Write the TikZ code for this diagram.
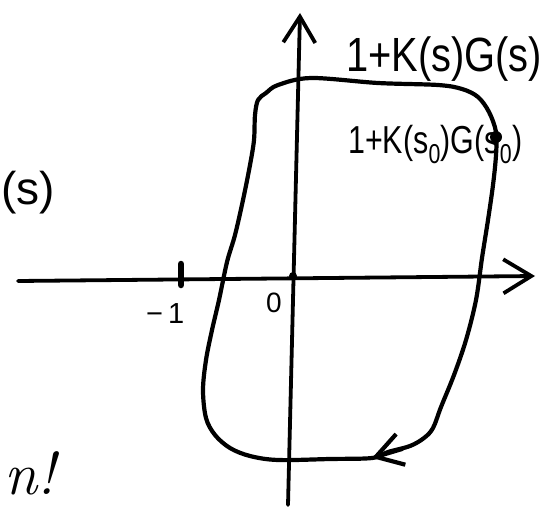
\documentclass[tikz,border=0pt]{standalone}
\usepackage{graphicx}
\usepackage{fontspec}
\newfontfamily\hand{Liberation Sans}
\usetikzlibrary{arrows.meta}
\begin{document}
\begin{tikzpicture}[x=1pt,y=-1pt,
  stroke/.style={line width=4.2pt,line cap=round,line join=round},
  axisline/.style={line width=3.8pt,line cap=round,line join=round},
  lbl/.style={inner sep=0pt},
  dotnode/.style={circle,fill,inner sep=0pt,minimum size=#1}]
\clip (0,0) rectangle (556,519);
% axes
\coordinate (xl) at (18,281);
\coordinate (xr) at (535,276);
\coordinate (yb) at (288,505);
\coordinate (yt) at (300,13);
\draw[axisline,-{Straight Barb[length=28pt,width=34pt]}] (xl) -- (xr);
\draw[axisline,-{Straight Barb[length=26pt,width=32pt]}] (yb) -- (yt);
% tick at -1
\coordinate (tkt) at (181,264);
\coordinate (tkb) at (181,285);
\draw[line width=6.5pt,line cap=round] (tkt) -- (tkb);
\node[dotnode=8pt] (orig) at (293,276) {};
% closed contour
\draw[stroke] plot[smooth cycle, tension=0.55] coordinates {
 (278,85) (311,78) (378,83) (438,85) (462,89) (478,97) (489,112) (496,132)
 (496,155) (493,185) (488,220) (482,258) (476,300) (466,340) (454,375)
 (441,407) (433,428) (424,438) (410,446) (388,452) (372,458) (330,459)
 (278,460) (250,456) (230,448) (215,435) (206,418) (203,390) (206,360)
 (212,330) (219,300) (227,262) (235,235) (243,200) (250,165) (254,140)
 (255,115) (258,100) (266,93)};
\coordinate (ahs) at (402,449);
\coordinate (ah) at (372,458);
\draw[stroke,-{Straight Barb[length=26pt,width=32pt]}] (ahs) -- (ah);
\node[dotnode=12pt] (s0dot) at (496,137) {};
% labels
\node[lbl,anchor=base west,font=\hand\fontsize{48}{48}\selectfont] (lab1) at (346,71) {\scalebox{0.83}[1]{1+K(s)G(s)}};
\node[lbl,anchor=base west,font=\hand\fontsize{39}{39}\selectfont] (lab2) at (348,153) {\scalebox{0.78}[1]{1+K(s\textsubscript{0})G(s\textsubscript{0})}};
\node[lbl,anchor=base west,font=\hand\fontsize{29}{29}\selectfont] (m1) at (146,323) {−\hspace{5pt}1};
\node[lbl,font=\hand\fontsize{28}{28}\selectfont] (zero) at (274,303) {0};
\node[lbl,anchor=base east,font=\hand\fontsize{46}{46}\selectfont] (gs) at (55,204) {(s)};
\node[lbl,anchor=base east,font=\itshape\fontsize{60}{60}\selectfont] (nb) at (56,494) {n!};
\end{tikzpicture}
\end{document}
